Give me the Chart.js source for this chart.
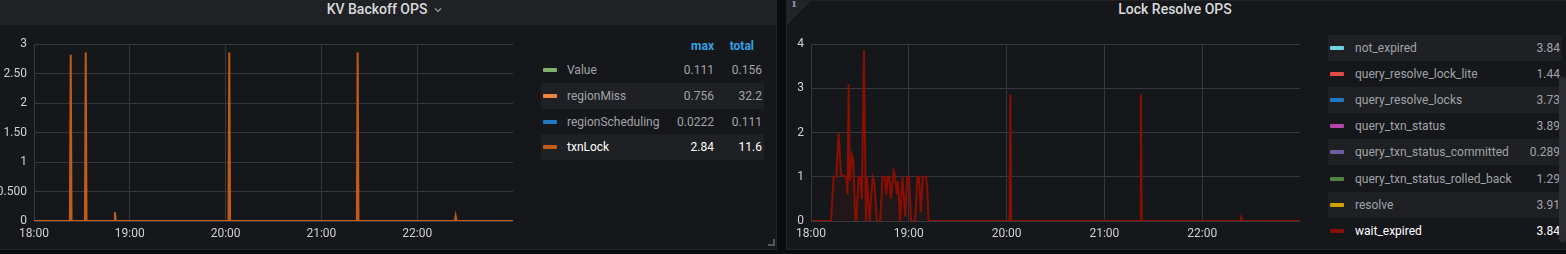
<!DOCTYPE html>
<html>
<head>
<meta charset="utf-8">
<script src="https://cdn.jsdelivr.net/npm/chart.js@4/dist/chart.umd.min.js"></script>
<style>
  body { margin: 0; width: 1566px; height: 254px; background: #0b0c0e; overflow: hidden; font-family: Roboto, sans-serif; }
  .panel { position: absolute; top: 0; height: 250px; background: #16171b; border: 1px solid #212327; box-sizing: border-box; }
  .title { position: absolute; top: 0; height: 19px; line-height: 19px; font-size: 14px; font-weight: 500; color: #d8d9da; white-space: nowrap; transform: translateX(-50%); }
  .row { position: absolute; height: 26px; line-height: 26px; font-size: 12px; color: #a0a3a9; white-space: nowrap; }
  .row.alt { background: #1e2024; }
  .swatch { position: absolute; top: 11px; width: 14px; height: 4px; border-radius: 1px; }
  .lbl { position: absolute; }
  .val { position: absolute; text-align: right; }
  .hl { color: #ffffff; }
  canvas { position: absolute; }
</style>
</head>
<body>
<div class="panel" style="left:-2px; width:779px;">
  <div style="position:absolute; left:0; top:0; width:100%; height:24px; background:#1f2125;"></div>
  <div style="position:absolute; right:1px; bottom:3px; width:5px; height:5px; border-right:2px solid #55575c; border-bottom:2px solid #55575c;"></div>
</div>
<div class="panel" style="left:786px; width:790px;">
  <div style="position:absolute; left:0; top:0; width:24px; height:24px; background:#22242a; clip-path:polygon(0 0,100% 0,0 100%);"></div>
  <div style="position:absolute; left:5px; top:-4px; font:bold 11px 'DejaVu Serif', serif; color:#8e9099;">i</div>
</div>

<div class="title" style="left:377px;">KV Backoff OPS</div>
<svg style="position:absolute; left:434px; top:7px;" width="8" height="6" viewBox="0 0 8 6"><polyline points="1,1.5 4,4.5 7,1.5" fill="none" stroke="#9a9ca2" stroke-width="1.2"/></svg>
<div class="title" style="left:1175px;">Lock Resolve OPS</div>

<canvas id="left" width="520" height="224" style="left:0; top:30px;"></canvas>
<canvas id="right" width="520" height="224" style="left:787px; top:30px;"></canvas>

<div id="leftLegend"></div>
<div id="rightLegend"></div>
<div style="position:absolute; left:1559px; top:77px; width:7px; height:165px; background:#2b2d32; border-radius:3px;"></div>

<script>
// time axis: minutes after 18:00
var hourTicks = [0, 60, 120, 180, 240];
var hourLabels = ['18:00', '19:00', '20:00', '21:00', '22:00'];

// KV Backoff OPS - txnLock (the selected series)
var txnLockTimes  = [0, 22.5, 23, 23.5, 31.9, 32.4, 32.9, 50.2, 50.7, 51.2, 121.8, 122.3, 122.8, 202.2, 202.7, 203.2, 263.6, 264.1, 264.6, 300];
var txnLockValues = [0, 0, 2.82, 0, 0, 2.86, 0, 0, 0.15, 0, 0, 2.86, 0, 0, 2.86, 0, 0, 0.08, 0, 0];

var leftYTickValues = [0, 0.5, 1, 1.5, 2, 2.5, 3];
var leftYTickLabels = ['0', '0.500', '1', '1.50', '2', '2.50', '3'];

var leftNames = ['Value', 'regionMiss', 'regionScheduling', 'txnLock'];
var leftColors = ['#7EB26D', '#EF843C', '#1F78C1', '#C15C17'];
var leftMax = ['0.111', '0.756', '0.0222', '2.84'];
var leftTotal = ['0.156', '32.2', '0.111', '11.6'];

// Lock Resolve OPS - wait_expired (the selected series)
var waitExpiredTimes = [0, 12.3, 13.9, 15.5, 16.9, 18.4, 21.6, 22.4, 23.1, 23.8, 25.1, 25.9, 27.2, 27.8, 29.2, 30.2, 31.2, 32.5, 33.7, 34.3, 35.9, 37.8, 38.8, 40.4,
  42.5, 43.9, 45.4, 46.2, 47.2, 48.1, 49, 50.7, 51.6, 52.7, 53.4, 54.7, 56.1, 57.8, 59, 60.2, 61.4, 63.9, 65.3, 66.3, 67.4, 68.6, 70.5, 71.3, 72.1,
  121.8, 122.3, 122.8, 201.9, 202.4, 202.9, 263.4, 263.9, 264.4, 300];
var waitExpiredValues = [0, 0, 1, 1, 2.0, 1.05, 1, 0.6, 3.1, 0.9, 1.5, 1.4, 0, 0, 1, 1, 0.5, 3.86, 0, 1, 0, 1, 0.9, 0,
  0, 1, 1, 0.6, 1, 1, 0.5, 1.13, 1, 0.6, 0.9, 0, 1, 0.1, 1, 1, 0, 0, 1, 1, 0.2, 1, 1, 0.8, 0,
  0, 2.87, 0, 0, 2.87, 0, 0, 0.08, 0, 0];

var rightYTickValues = [0, 1, 2, 3, 4];

var rightNames = ['not_expired', 'query_resolve_lock_lite', 'query_resolve_locks', 'query_txn_status',
  'query_txn_status_committed', 'query_txn_status_rolled_back', 'resolve', 'wait_expired'];
var rightColors = ['#6ED0E0', '#E24D42', '#1F78C1', '#BA43A9', '#705DA0', '#508642', '#CCA300', '#890F02'];
var rightValues = ['3.84', '1.44', '3.73', '3.89', '0.289', '1.29', '3.91', '3.84'];

function toPoints(times, values) {
  var pts = [];
  for (var i = 0; i < times.length; i++) {
    pts.push({x: times[i], y: values[i]});
  }
  return pts;
}

function hexToFill(hex) {
  var r = parseInt(hex.slice(1, 3), 16);
  var g = parseInt(hex.slice(3, 5), 16);
  var b = parseInt(hex.slice(5, 7), 16);
  return 'rgba(' + r + ',' + g + ',' + b + ',0.1)';
}

var gridColor = '#36383d';
var tickColor = '#d0d1d4';
var tickFont = {family: 'Roboto', size: 12};

function makeChart(id, points, color, yMax, yStep, yWidth, yLabel) {
  var ctx = document.getElementById(id).getContext('2d');
  return new Chart(ctx, {
    type: 'line',
    data: {
      datasets: [{
        data: points,
        borderColor: color,
        backgroundColor: hexToFill(color),
        borderWidth: 2,
        fill: 'origin',
        tension: 0,
        pointRadius: 0
      }]
    },
    options: {
      responsive: false,
      animation: false,
      layout: {padding: {top: 11, right: 7, left: 0, bottom: 0}},
      plugins: {legend: {display: false}, tooltip: {enabled: false}},
      scales: {
        x: {
          type: 'linear',
          min: 0,
          max: 300,
          afterBuildTicks: function (scale) {
            scale.ticks = hourTicks.map(function (v) { return {value: v}; });
          },
          afterFit: function (scale) { scale.height = 33; },
          border: {display: false},
          grid: {color: gridColor, drawTicks: false},
          ticks: {
            color: tickColor, font: tickFont, padding: 6, maxRotation: 0, autoSkip: false,
            callback: function (v) { return hourLabels[hourTicks.indexOf(v)]; }
          }
        },
        y: {
          min: 0,
          max: yMax,
          afterFit: function (scale) { scale.width = yWidth; },
          border: {display: false},
          grid: {color: gridColor, drawTicks: false},
          ticks: {color: tickColor, font: tickFont, padding: 7, stepSize: yStep, callback: yLabel}
        }
      }
    }
  });
}

makeChart('left', toPoints(txnLockTimes, txnLockValues), leftColors[3], 3, 0.5, 34, function (v) {
  return leftYTickLabels[leftYTickValues.indexOf(v)];
});
makeChart('right', toPoints(waitExpiredTimes, waitExpiredValues), rightColors[7], 4, 1, 24, function (v) {
  return String(rightYTickValues[rightYTickValues.indexOf(v)]);
});

// legends
var html = '';
html += '<div class="row" style="left:541px; top:33px; width:223px; color:#33a2e5; font-weight:bold;">' +
  '<span class="val" style="right:50px;">max</span><span class="val" style="right:10px;">total</span></div>';
for (var i = 0; i < leftNames.length; i++) {
  var sel = i === 3 ? ' hl' : '';
  html += '<div class="row' + (i % 2 === 1 ? ' alt' : '') + sel + '" style="left:541px; top:' + (57 + i * 25.8) + 'px; width:223px;">' +
    '<div class="swatch" style="left:2px; background:' + leftColors[i] + ';"></div>' +
    '<span class="lbl" style="left:26px;">' + leftNames[i] + '</span>' +
    '<span class="val" style="right:50px;">' + leftMax[i] + '</span>' +
    '<span class="val" style="right:2px;">' + leftTotal[i] + '</span></div>';
}
document.getElementById('leftLegend').innerHTML = html;

html = '';
for (var j = 0; j < rightNames.length; j++) {
  var sel2 = j === 7 ? ' hl' : '';
  html += '<div class="row' + (j % 2 === 0 ? ' alt' : '') + sel2 + '" style="left:1328px; top:' + (35 + j * 26.1) + 'px; width:234px;">' +
    '<div class="swatch" style="left:2px; background:' + rightColors[j] + ';"></div>' +
    '<span class="lbl" style="left:27px;">' + rightNames[j] + '</span>' +
    '<span class="val" style="right:2px;">' + rightValues[j] + '</span></div>';
}
document.getElementById('rightLegend').innerHTML = html;
</script>
</body>
</html>
